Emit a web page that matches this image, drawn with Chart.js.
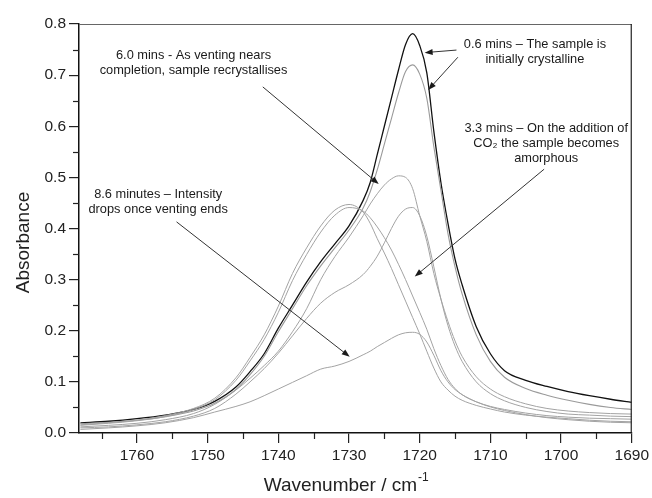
<!DOCTYPE html>
<html>
<head>
<meta charset="utf-8">
<script src="https://cdn.jsdelivr.net/npm/chart.js@4.4.1/dist/chart.umd.min.js"></script>
<style>
  html, body { margin: 0; padding: 0; background: #fff; }
  #wrap { width: 652px; height: 498px; }
</style>
</head>
<body>
<div id="wrap"><canvas id="spectra" width="652" height="498"></canvas></div>
<script>
// wavenumber grid (cm-1), shared by all spectra
const wavenumbers = [1768, 1764, 1760, 1756, 1752, 1749, 1746, 1744, 1742, 1740,
    1738, 1736, 1734, 1732, 1730, 1728, 1727, 1726, 1725, 1724,
    1723, 1722, 1721, 1720, 1719, 1718, 1717, 1716, 1715, 1714,
    1712, 1710, 1708, 1705, 1702, 1699, 1696, 1693, 1690];

// absorbance
const min06 = [0.020, 0.023, 0.028, 0.035, 0.046, 0.062, 0.090, 0.120, 0.155, 0.205,
    0.250, 0.295, 0.335, 0.370, 0.405, 0.455, 0.490, 0.545, 0.600, 0.655,
    0.710, 0.760, 0.781, 0.758, 0.705, 0.590, 0.490, 0.410, 0.340, 0.290,
    0.208, 0.155, 0.122, 0.103, 0.091, 0.081, 0.073, 0.066, 0.060];

const crystalline2 = [0.018, 0.021, 0.025, 0.032, 0.043, 0.058, 0.085, 0.114, 0.150, 0.198,
    0.243, 0.288, 0.327, 0.362, 0.397, 0.440, 0.472, 0.515, 0.565, 0.615,
    0.665, 0.707, 0.720, 0.702, 0.655, 0.560, 0.475, 0.390, 0.325, 0.272,
    0.192, 0.140, 0.109, 0.087, 0.074, 0.064, 0.056, 0.050, 0.046];

const amorphousA = [0.016, 0.020, 0.025, 0.034, 0.048, 0.068, 0.108, 0.148, 0.192, 0.248,
    0.312, 0.362, 0.405, 0.436, 0.447, 0.432, 0.410, 0.380, 0.352, 0.322,
    0.290, 0.258, 0.226, 0.194, 0.160, 0.127, 0.100, 0.084, 0.072, 0.064,
    0.054, 0.047, 0.041, 0.035, 0.031, 0.028, 0.025, 0.023, 0.022];

const amorphousB = [0.015, 0.019, 0.024, 0.032, 0.046, 0.065, 0.103, 0.141, 0.183, 0.236,
    0.298, 0.349, 0.393, 0.426, 0.441, 0.434, 0.421, 0.403, 0.382, 0.358,
    0.330, 0.300, 0.268, 0.236, 0.203, 0.165, 0.132, 0.105, 0.087, 0.075,
    0.061, 0.052, 0.046, 0.039, 0.034, 0.031, 0.029, 0.028, 0.027];

const min60 = [0.012, 0.015, 0.019, 0.026, 0.038, 0.056, 0.084, 0.107, 0.132, 0.160,
    0.198, 0.243, 0.300, 0.345, 0.383, 0.425, 0.448, 0.468, 0.485, 0.497,
    0.503, 0.500, 0.478, 0.425, 0.375, 0.312, 0.262, 0.218, 0.180, 0.150,
    0.110, 0.086, 0.071, 0.057, 0.048, 0.043, 0.040, 0.038, 0.037];

const min33 = [0.010, 0.012, 0.016, 0.022, 0.033, 0.048, 0.076, 0.100, 0.126, 0.156,
    0.190, 0.224, 0.254, 0.275, 0.290, 0.310, 0.326, 0.346, 0.372, 0.400,
    0.424, 0.438, 0.441, 0.425, 0.385, 0.325, 0.262, 0.210, 0.170, 0.140,
    0.100, 0.077, 0.063, 0.050, 0.042, 0.037, 0.035, 0.033, 0.032];

const min86 = [0.007, 0.010, 0.014, 0.020, 0.030, 0.041, 0.052, 0.061, 0.073, 0.086,
    0.099, 0.112, 0.125, 0.131, 0.140, 0.153, 0.160, 0.169, 0.177, 0.185,
    0.192, 0.196, 0.197, 0.193, 0.178, 0.152, 0.122, 0.100, 0.085, 0.075,
    0.061, 0.051, 0.044, 0.036, 0.030, 0.026, 0.023, 0.021, 0.020];

const yTicks = [0, 0.1, 0.2, 0.3, 0.4, 0.5, 0.6, 0.7, 0.8];

// callouts: text centre of first line and arrows (from -> to) in data units
const callouts = [
    { lines: ['6.0 mins - As venting nears', 'completion, sample recrystallises'],
      at: [1752.0, 0.739], arrows: [[1742.2, 0.677, 1725.8, 0.487]] },
    { lines: ['0.6 mins \u2013 The sample is', 'initially crystalline'],
      at: [1703.7, 0.759], arrows: [[1714.8, 0.749, 1719.3, 0.744], [1714.6, 0.735, 1718.8, 0.671]] },
    { lines: ['3.3 mins \u2013 On the addition of', 'CO\u2082 the sample becomes', 'amorphous'],
      at: [1702.1, 0.596], arrows: [[1702.4, 0.516, 1720.7, 0.306]] },
    { lines: ['8.6 minutes \u2013 Intensity', 'drops once venting ends'],
      at: [1757.0, 0.466], arrows: [[1754.4, 0.413, 1729.9, 0.149]] }
];

const FONT = "'Liberation Sans', Arial, sans-serif";
Chart.defaults.font.family = FONT;

function toPoints(values) {
    return wavenumbers.map(function (w, i) { return { x: w, y: values[i] }; });
}

function spectrum(label, values, color, width) {
    return {
        label: label,
        data: toPoints(values),
        borderColor: color,
        borderWidth: width,
        pointRadius: 0,
        fill: false,
        cubicInterpolationMode: 'monotone'
    };
}

function drawArrow(ctx, x1, y1, x2, y2) {
    const ang = Math.atan2(y2 - y1, x2 - x1);
    const len = 8, half = 3;
    ctx.beginPath();
    ctx.moveTo(x1, y1);
    ctx.lineTo(x2 - Math.cos(ang) * len * 0.8, y2 - Math.sin(ang) * len * 0.8);
    ctx.stroke();
    ctx.beginPath();
    ctx.moveTo(x2, y2);
    ctx.lineTo(x2 - Math.cos(ang) * len - Math.sin(ang) * half, y2 - Math.sin(ang) * len + Math.cos(ang) * half);
    ctx.lineTo(x2 - Math.cos(ang) * len + Math.sin(ang) * half, y2 - Math.sin(ang) * len - Math.cos(ang) * half);
    ctx.closePath();
    ctx.fill();
}

// frame, minor ticks, axis titles and callouts
const decorations = {
    id: 'decorations',
    afterDraw(chart) {
        const ctx = chart.ctx;
        const xs = chart.scales.x, ys = chart.scales.y;
        const area = chart.chartArea;
        ctx.save();

        // top and right edges of the box
        ctx.lineWidth = 1.2;
        ctx.strokeStyle = '#666';
        ctx.beginPath();
        ctx.moveTo(area.left, area.top + 0.5);
        ctx.lineTo(area.right, area.top + 0.5);
        ctx.stroke();
        ctx.strokeStyle = '#222';
        ctx.beginPath();
        ctx.moveTo(area.right - 0.5, area.top);
        ctx.lineTo(area.right - 0.5, area.bottom);
        ctx.stroke();

        // minor ticks
        ctx.strokeStyle = '#222';
        ctx.lineWidth = 1.2;
        for (let i = 0; i < yTicks.length - 1; i++) {
            const py = Math.round(ys.getPixelForValue((yTicks[i] + yTicks[i + 1]) / 2)) + 0.5;
            ctx.beginPath();
            ctx.moveTo(area.left, py);
            ctx.lineTo(area.left - 6, py);
            ctx.stroke();
        }
        for (let w = 1765; w > 1690; w -= 10) {
            const px = Math.round(xs.getPixelForValue(w)) + 0.5;
            ctx.beginPath();
            ctx.moveTo(px, area.bottom);
            ctx.lineTo(px, area.bottom + 6);
            ctx.stroke();
        }

        // axis titles
        ctx.fillStyle = '#222';
        ctx.font = '19px ' + FONT;
        ctx.textAlign = 'center';
        ctx.textBaseline = 'middle';
        ctx.fillText('Wavenumber / cm', (area.left + area.right) / 2 - 15, area.bottom + 53);
        const tw = ctx.measureText('Wavenumber / cm').width;
        ctx.font = '12px ' + FONT;
        ctx.textAlign = 'left';
        ctx.fillText('-1', (area.left + area.right) / 2 - 15 + tw / 2 + 1, area.bottom + 45);
        ctx.save();
        ctx.translate(area.left - 55, (area.top + area.bottom) / 2 + 14);
        ctx.rotate(-Math.PI / 2);
        ctx.font = '19px ' + FONT;
        ctx.textAlign = 'center';
        ctx.fillText('Absorbance', 0, 0);
        ctx.restore();

        // callouts
        ctx.font = '12.8px ' + FONT;
        ctx.textAlign = 'center';
        ctx.fillStyle = '#1a1a1a';
        ctx.strokeStyle = '#333';
        ctx.lineWidth = 1;
        callouts.forEach(function (c) {
            const cx = xs.getPixelForValue(c.at[0]);
            const cy = ys.getPixelForValue(c.at[1]);
            c.lines.forEach(function (line, i) {
                ctx.fillText(line, cx, cy + i * 15);
            });
            c.arrows.forEach(function (a) {
                drawArrow(ctx, xs.getPixelForValue(a[0]), ys.getPixelForValue(a[1]),
                    xs.getPixelForValue(a[2]), ys.getPixelForValue(a[3]));
            });
        });
        ctx.restore();
    }
};

const gray = '#a3a3a3';

new Chart(document.getElementById('spectra'), {
    type: 'line',
    data: {
        datasets: [
            spectrum('8.6 mins', min86, gray, 1),
            spectrum('3.3 mins', min33, gray, 1),
            spectrum('6.0 mins', min60, gray, 1),
            spectrum('amorphous A', amorphousA, gray, 1),
            spectrum('amorphous B', amorphousB, gray, 1),
            spectrum('crystalline', crystalline2, '#9a9a9a', 1.1),
            spectrum('0.6 mins', min06, '#111', 1.3)
        ]
    },
    options: {
        responsive: false,
        animation: false,
        layout: { padding: { top: 24, right: 19, left: 0, bottom: 0 } },
        plugins: { legend: { display: false }, tooltip: { enabled: false } },
        scales: {
            x: {
                type: 'linear',
                reverse: true,
                min: 1690,
                max: 1768.2,
                afterFit: function (scale) { scale.height = 65; },
                ticks: {
                    stepSize: 10,
                    includeBounds: false,
                    color: '#222',
                    font: { size: 15.5 },
                    padding: 3,
                    maxRotation: 0,
                    callback: function (v) { return String(v); }
                },
                grid: { drawOnChartArea: false, tickLength: 10, color: '#222', lineWidth: 1.2 },
                border: { color: '#111', width: 1.5 }
            },
            y: {
                min: 0,
                max: 0.8,
                afterFit: function (scale) { scale.width = 79; },
                ticks: {
                    stepSize: 0.1,
                    color: '#222',
                    font: { size: 15.5 },
                    padding: 3,
                    callback: function (v) { return v.toFixed(1); }
                },
                grid: { drawOnChartArea: false, tickLength: 10, color: '#222', lineWidth: 1.2 },
                border: { color: '#111', width: 1.5 }
            }
        }
    },
    plugins: [decorations]
});
</script>
</body>
</html>
